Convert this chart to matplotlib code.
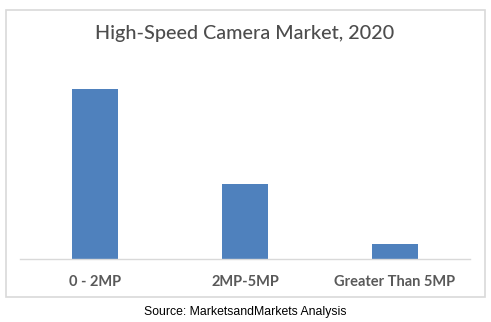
import matplotlib
matplotlib.use("Agg")
import matplotlib.pyplot as plt
from matplotlib.patches import Rectangle

# data (relative market share, no axis values shown)
categories = ["0 - 2MP", "2MP-5MP", "Greater Than 5MP"]
values = [100, 43.8, 8.8]
title = "High-Speed Camera Market, 2020"
source = "Source: MarketsandMarkets Analysis"

W, H = 491, 322
fig = plt.figure(figsize=(W / 100, H / 100), dpi=100)

# chart border
fig.patches.append(Rectangle((6 / W, 1 - 297 / H), 479 / W, 287 / H,
                             transform=fig.transFigure, fill=False,
                             edgecolor="#d9d9d9", linewidth=1.2))

ax = fig.add_axes([20 / W, 1 - 258.7 / H, 450 / W, 169.7 / H])
ax.bar(range(len(categories)), values, width=0.313, color="#4F81BD")
ax.set_xlim(-0.5, 2.5)
ax.set_ylim(0, 100)
for s in ["top", "right", "left"]:
    ax.spines[s].set_visible(False)
ax.spines["bottom"].set_color("#d9d9d9")
ax.spines["bottom"].set_linewidth(1)
ax.set_yticks([])
ax.set_xticks(range(len(categories)))
ax.set_xticklabels(categories, fontfamily="Lato", fontweight="bold",
                   fontsize=10.5, color="#595959")
ax.tick_params(axis="x", length=0, pad=12)

fig.text(245 / W, 1 - 33 / H, title, ha="center", va="center",
         fontfamily="Lato", fontsize=14.2, fontweight="medium", color="#4d4d4d")
fig.text(245 / W, 1 - 311.5 / H, source, ha="center", va="center",
         fontfamily="Liberation Sans", fontsize=8.8, color="black")

fig.savefig("out.png", dpi=100)
